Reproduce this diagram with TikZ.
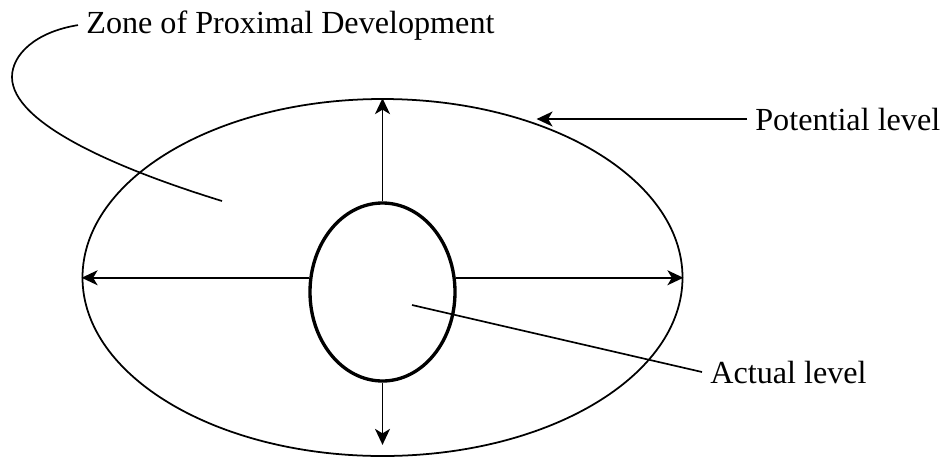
\documentclass[tikz,border=0pt]{standalone}
\usepackage{fontspec}
\setmainfont{Liberation Serif}
\usetikzlibrary{arrows.meta,shapes.geometric}
\tikzset{
  lvl/.style={draw,ellipse,inner sep=0pt,line width=1pt},
  arr/.style={-{Stealth[length=3.2mm,width=3mm,inset=0.9mm]},line width=0.95pt},
  lead/.style={line width=0.95pt},
  lbl/.style={inner xsep=1.6mm,inner ysep=0pt,font=\fontsize{18.3}{22}\selectfont}
}
\begin{document}
\begin{tikzpicture}
        \useasboundingbox (0,0) rectangle (18.88,-9.2);
        % the two levels
        \node[lvl,minimum width=12cm,minimum height=7.14cm] (potential) at (7.65,-5.55) {};
        \node[lvl,line width=1.9pt,minimum width=2.9cm,minimum height=3.56cm] (actual) at (7.65,-5.84) {};
        % growth arrows
        \draw[arr] (actual.north) -- (potential.north);
        \draw[arr,shorten >=2.4mm] (actual.south) -- (potential.south);
        \draw[arr] (actual.169) -- (actual.169 -| potential.west);
        \draw[arr] (actual.11) -- (actual.11 -| potential.east);
        % labels
        \node[lbl,anchor=base west] (zpd) at (1.56,-0.66) {Zone of Proximal Development};
        \node[lbl,anchor=base west] (pot) at (14.94,-2.60) {Potential level};
        \node[lbl,anchor=base west] (act) at (14.04,-7.66) {Actual level};
        \coordinate (zone) at (4.44,-4.02);
        \coordinate (core) at (8.24,-6.10);
        \draw[lead] (zpd.west) .. controls (0.70,-0.64) and (0.24,-1.10) .. (0.24,-1.54)
          .. controls (0.24,-2.46) and (2.30,-3.36) .. (zone);
        \draw[arr] (pot.west) -- (potential.45 |- pot.west);
        \draw[lead] (act.west) -- (core);
      \end{tikzpicture}
\end{document}
